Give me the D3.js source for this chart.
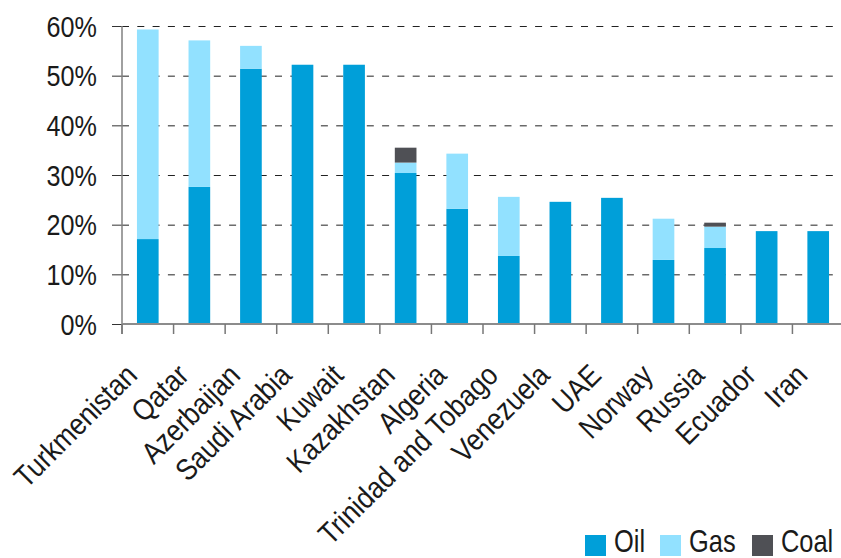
<!DOCTYPE html>
<html>
<head>
<meta charset="utf-8">
<script src="https://cdn.jsdelivr.net/npm/d3@7"></script>
<style>
  html, body { margin: 0; padding: 0; background: #ffffff; }
  svg { display: block; }
  text { font-family: "Liberation Sans", Arial, sans-serif; fill: #1a1a1a; }
</style>
</head>
<body>
<svg id="chart" width="841" height="558"></svg>
<script>
// Fuel rents as a share of GDP, by country
const categories = ["Turkmenistan", "Qatar", "Azerbaijan", "Saudi Arabia", "Kuwait", "Kazakhstan",
  "Algeria", "Trinidad and Tobago", "Venezuela", "UAE", "Norway", "Russia", "Ecuador", "Iran"];
const oil  = [17.1, 27.6, 51.4, 52.2, 52.2, 30.4, 23.2, 13.7, 24.6, 25.4, 12.9, 15.3, 18.7, 18.7];
const gas  = [42.2, 29.5,  4.6,  0.0,  0.0,  2.1, 11.1, 11.9,  0.0,  0.0,  8.3,  4.3,  0.0,  0.0];
const coal = [ 0.0,  0.0,  0.0,  0.0,  0.0,  3.0,  0.0,  0.0,  0.0,  0.0,  0.0,  0.8,  0.0,  0.0];
const yTicks = [0, 10, 20, 30, 40, 50, 60];
const seriesNames = ["Oil", "Gas", "Coal"];
const seriesColors = ["#009fd9", "#92e1ff", "#4f5055"];

const svg = d3.select("#chart");
const plot = { left: 122, right: 844, top: 26, bottom: 324 };

const rows = categories.map((c, i) => ({ country: c, Oil: oil[i], Gas: gas[i], Coal: coal[i] }));
const stacked = d3.stack().keys(seriesNames)(rows);

const x = d3.scaleBand()
  .domain(categories)
  .range([plot.left, plot.right])
  .paddingInner(0.58)
  .paddingOuter(0.29);
const step = x.step();
const boundary = c => x(c) - step * x.paddingInner() / 2;

const y = d3.scaleLinear().domain([0, 60]).range([plot.bottom, plot.top]);
const color = d3.scaleOrdinal().domain(seriesNames).range(seriesColors);

// condensed lettering: regular face squeezed horizontally
const narrow = 0.84;

// dashed horizontal gridlines
const grid = svg.append("g")
  .attr("transform", `translate(${plot.left},0)`)
  .call(d3.axisRight(y).tickValues(yTicks.filter(d => d > 0)).tickSize(838 - plot.left).tickFormat(""));
grid.select(".domain").remove();
grid.selectAll("line")
  .attr("stroke", "#222")
  .attr("stroke-width", 1)
  .attr("stroke-dasharray", "7,8.3");

// stacked bars
svg.append("g")
  .selectAll("g")
  .data(stacked)
  .join("g")
  .attr("fill", d => color(d.key))
  .selectAll("rect")
  .data(d => d)
  .join("rect")
  .attr("x", d => x(d.data.country))
  .attr("width", x.bandwidth())
  .attr("y", d => y(d[1]))
  .attr("height", d => y(d[0]) - y(d[1]));

// y axis with percentage labels
const yAxis = svg.append("g")
  .attr("transform", `translate(${plot.left},0)`)
  .call(d3.axisLeft(y).tickValues(yTicks).tickFormat(d => d + "%").tickSize(10).tickPadding(15));
yAxis.select(".domain").remove();
yAxis.selectAll("line").attr("stroke", "#333").attr("stroke-width", 1);
yAxis.selectAll("text")
  .attr("font-size", 30)
  .attr("x", 0)
  .attr("dy", "0.34em")
  .attr("transform", `translate(-25,0) scale(${narrow},1)`)
  .style("font-family", null);
svg.append("line")
  .attr("x1", plot.left).attr("x2", plot.left)
  .attr("y1", y(60)).attr("y2", plot.bottom + 10)
  .attr("stroke", "#808080").attr("stroke-width", 1.5);

// x axis: baseline, category boundary ticks, rotated labels
svg.append("line")
  .attr("x1", plot.left).attr("x2", 841)
  .attr("y1", plot.bottom).attr("y2", plot.bottom)
  .attr("stroke", "#8c8c8c").attr("stroke-width", 2);
svg.append("g")
  .selectAll("line")
  .data(categories)
  .join("line")
  .attr("x1", d => boundary(d)).attr("x2", d => boundary(d))
  .attr("y1", plot.bottom).attr("y2", plot.bottom + 10)
  .attr("stroke", "#777").attr("stroke-width", 1.5);

const xAxis = svg.append("g")
  .attr("transform", `translate(0,${plot.bottom})`)
  .call(d3.axisBottom(x).tickSize(0).tickPadding(0));
xAxis.select(".domain").remove();
xAxis.selectAll("text")
  .attr("font-size", 30)
  .attr("text-anchor", "end")
  .attr("x", 0).attr("y", 0).attr("dy", 0)
  .attr("transform", `translate(-9,53) rotate(-45) scale(0.88,1)`)
  .style("font-family", null);

// legend
const legend = svg.append("g").attr("transform", "translate(585,535)");
const legendX = [0, 75, 167];
seriesNames.forEach((name, i) => {
  const g = legend.append("g").attr("transform", `translate(${legendX[i]},0)`);
  g.append("rect").attr("width", 21).attr("height", 21).attr("fill", color(name));
  g.append("text")
    .attr("font-size", 31)
    .attr("transform", "translate(29,17) scale(0.82,1)")
    .text(name);
});
</script>
</body>
</html>
